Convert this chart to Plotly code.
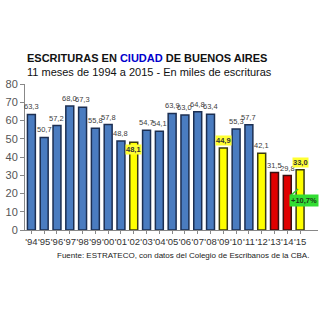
import plotly.graph_objects as go

years = ["'94","'95","'96","'97","'98","'99","'00","'01","'02","'03","'04",
         "'05","'06","'07","'08","'09","'10","'11","'12","'13","'14","'15"]
values = [63.3, 50.7, 57.2, 68.0, 67.3, 55.8, 57.8, 48.8, 48.1, 54.7, 54.1,
          63.9, 63.0, 64.8, 63.4, 44.9, 55.3, 57.7, 42.1, 31.5, 29.8, 33.0]
kinds = ["b","b","b","b","b","b","b","b","y","b","b",
         "b","b","b","b","y","b","b","y","r","r","y"]
highlight = ["'02", "'09", "'15"]
change_label = "+10,7%"

fill = {"b": "#4a7cc0", "y": "#ffff00", "r": "#e00000"}
edge = {"b": "#1c2f52", "y": "#3a3a10", "r": "#3a1010"}

xs = list(range(len(years)))
FONT = "Arial, Liberation Sans, sans-serif"

fig = go.Figure()
fig.add_trace(go.Bar(
    x=xs, y=values, width=0.62,
    marker=dict(color=[fill[k] for k in kinds],
                line=dict(color=[edge[k] for k in kinds], width=1.5)),
    hoverinfo="skip",
))

anns = []
for x, yr, v in zip(xs, years, values):
    txt = f"{v:.1f}".replace(".", ",")
    if yr in highlight:
        inside = yr == "'02"
        anns.append(dict(x=x, y=v, xref="x", yref="y", text=f"<b>{txt}</b>",
                         showarrow=False, font=dict(size=7.5, color="#333333", family=FONT),
                         bgcolor="#ffff33", borderpad=0,
                         yanchor="top" if inside else "bottom",
                         yshift=-2 if inside else 2))
    else:
        anns.append(dict(x=x, y=v, xref="x", yref="y", text=txt, showarrow=False,
                         font=dict(size=7.5, color="#404040", family=FONT),
                         yanchor="bottom", yshift=1))

# change annotation
anns.append(dict(x=xs[-1], y=15.9, xref="x", yref="y", text=f"<b>{change_label}</b>",
                 showarrow=False, xshift=4,
                 font=dict(size=7.5, color="#1a3a1a", family=FONT),
                 bgcolor="#33dd33", borderpad=1))
anns.append(dict(x=xs[-1], y=22.5, xref="x", yref="y", text="", showarrow=True,
                 xshift=-2, ax=-9, ay=8, arrowhead=0, arrowwidth=1.5,
                 arrowcolor="#33cc33"))

# titles
anns.append(dict(x=0, y=1.178, xref="paper", yref="paper", xanchor="left", yanchor="middle",
                 text="<b>ESCRITURAS EN <span style='color:#0000cc'>CIUDAD</span> DE BUENOS AIRES</b>",
                 showarrow=False, font=dict(size=11, color="#111111", family=FONT)))
anns.append(dict(x=0, y=1.082, xref="paper", yref="paper", xanchor="left", yanchor="middle",
                 text="11 meses de 1994 a 2015 - En miles de escrituras",
                 showarrow=False, font=dict(size=11, color="#111111", family=FONT)))
anns.append(dict(x=0.54, y=-0.178, xref="paper", yref="paper", xanchor="center", yanchor="middle",
                 text="Fuente: ESTRATECO, con datos del Colegio de Escribanos de la CBA.",
                 showarrow=False, font=dict(size=8, color="#222222", family=FONT)))

fig.update_layout(
    width=320, height=320,
    margin=dict(l=25, r=2, t=84, b=90),
    paper_bgcolor="white", plot_bgcolor="white",
    showlegend=False,
    bargap=0.38,
    font=dict(family=FONT),
    annotations=anns,
    xaxis=dict(range=[-0.5, 22.4], tickmode="array", tickvals=xs, ticktext=years,
               tickangle=0, tickson="boundaries", ticks="outside", ticklen=3,
               tickcolor="#888888",
               showline=True, linecolor="#888888", linewidth=1, showgrid=False,
               zeroline=False, tickfont=dict(size=9.5, color="#333333", family=FONT)),
    yaxis=dict(range=[0, 80], dtick=10, ticks="outside", ticklen=4, tickcolor="#888888",
               showline=True, linecolor="#888888", linewidth=1, showgrid=False,
               zeroline=False, tickfont=dict(size=11, color="#555555", family=FONT)),
)

fig.write_html("out.html")
